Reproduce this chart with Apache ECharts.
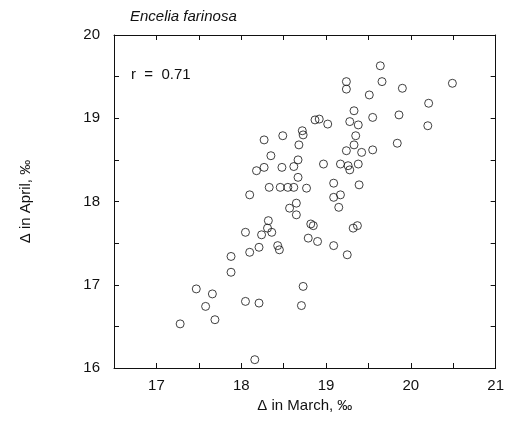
<!DOCTYPE html>
<html>
<head>
<meta charset="utf-8">
<script src="https://cdn.jsdelivr.net/npm/echarts@6/dist/echarts.min.js"></script>
<style>
  html, body { margin: 0; padding: 0; background: #fff; }
  #chart { width: 507px; height: 443px; }
</style>
</head>
<body>
<div id="chart"></div>
<script>
// Δ in March (x) and Δ in April (y)
const marchVals = [
  18.27, 18.49, 18.72, 18.73, 18.68, 18.35, 18.67, 18.27, 18.18, 18.48,
  18.62, 18.67, 18.33, 18.46, 18.55, 18.62, 18.77, 18.10, 18.65, 19.64,
  19.24, 19.24, 19.66, 20.49, 19.90, 19.51, 20.21, 19.33, 18.87, 18.92,
  19.02, 19.28, 19.38, 19.55, 19.86, 20.20, 19.35, 19.33, 19.24, 19.42,
  19.55, 19.84, 18.97, 19.17, 19.26, 19.28, 19.38, 19.09, 19.39, 19.09,
  19.17, 18.57, 18.65, 18.32, 18.31, 18.36, 18.05, 18.24, 18.79, 18.43,
  18.45, 18.21, 18.10, 17.88, 17.88, 17.47, 17.66, 17.58, 17.69, 17.28,
  18.05, 18.21, 18.73, 18.71, 18.16, 19.15, 18.82, 18.85, 19.32, 19.37,
  18.90, 19.09, 19.25
];
const aprilVals = [
  18.74, 18.79, 18.85, 18.80, 18.68, 18.55, 18.50, 18.41, 18.37, 18.41,
  18.42, 18.29, 18.17, 18.17, 18.17, 18.17, 18.16, 18.08, 17.98, 19.63,
  19.44, 19.35, 19.44, 19.42, 19.36, 19.28, 19.18, 19.09, 18.98, 18.99,
  18.93, 18.96, 18.92, 19.01, 19.04, 18.91, 18.79, 18.68, 18.61, 18.59,
  18.62, 18.70, 18.45, 18.45, 18.43, 18.38, 18.45, 18.22, 18.20, 18.05,
  18.08, 17.92, 17.84, 17.77, 17.68, 17.63, 17.63, 17.60, 17.56, 17.47,
  17.42, 17.45, 17.39, 17.34, 17.15, 16.95, 16.89, 16.74, 16.58, 16.53,
  16.80, 16.78, 16.98, 16.75, 16.10, 17.93, 17.73, 17.71, 17.68, 17.71,
  17.52, 17.47, 17.36
];
const rText = 'r  =  0.71';

const points = marchVals.map((x, i) => [x, aprilVals[i]]);

const font = '"Liberation Sans", Arial, Helvetica, sans-serif';
const intLabel = v => (Math.abs(v - Math.round(v)) < 1e-6 ? String(Math.round(v)) : '');

const chart = echarts.init(document.getElementById('chart'));

chart.setOption({
  animation: false,
  backgroundColor: '#fff',
  title: {
    text: 'Encelia farinosa',
    left: 130,
    top: 9,
    padding: 0,
    textStyle: { fontFamily: font, fontSize: 15, fontStyle: 'italic', fontWeight: 'normal', color: '#111' }
  },
  graphic: [{
    type: 'text',
    left: 131,
    top: 67,
    style: { text: rText, font: '15px ' + font, fill: '#111' }
  }],
  grid: { left: 114, right: 6, top: 35, bottom: 75 },
  xAxis: [
    {
      type: 'value', min: 16.5, max: 21, interval: 0.5,
      name: 'Δ in March, ‰', nameLocation: 'middle', nameGap: 30,
      nameTextStyle: { fontFamily: font, fontSize: 15, color: '#111' },
      axisLine: { show: true, onZero: false, lineStyle: { color: '#111', width: 1 } },
      axisTick: { show: true, inside: true, length: 5, lineStyle: { color: '#111' } },
      axisLabel: { formatter: intLabel, fontFamily: font, fontSize: 15, color: '#111', margin: 10 },
      splitLine: { show: false }
    },
    {
      type: 'value', position: 'top', min: 16.5, max: 21, interval: 0.5,
      axisLine: { show: true, onZero: false, lineStyle: { color: '#111', width: 1 } },
      axisTick: { show: true, inside: true, length: 5, lineStyle: { color: '#111' } },
      axisLabel: { show: false },
      splitLine: { show: false }
    }
  ],
  yAxis: [
    {
      type: 'value', min: 16, max: 20, interval: 0.5,
      name: 'Δ in April, ‰', nameLocation: 'middle', nameGap: 81,
      nameTextStyle: { fontFamily: font, fontSize: 15, color: '#111' },
      axisLine: { show: true, onZero: false, lineStyle: { color: '#111', width: 1 } },
      axisTick: { show: true, inside: true, length: 5, lineStyle: { color: '#111' } },
      axisLabel: { formatter: intLabel, fontFamily: font, fontSize: 15, color: '#111', margin: 14 },
      splitLine: { show: false }
    },
    {
      type: 'value', position: 'right', min: 16, max: 20, interval: 0.5,
      axisLine: { show: true, onZero: false, lineStyle: { color: '#111', width: 1 } },
      axisTick: { show: true, inside: true, length: 5, lineStyle: { color: '#111' } },
      axisLabel: { show: false },
      splitLine: { show: false }
    }
  ],
  series: [{
    type: 'scatter',
    data: points,
    symbol: 'circle',
    symbolSize: 8,
    itemStyle: { color: 'rgba(255,255,255,0)', borderColor: '#111', borderWidth: 1 }
  }]
});
</script>
</body>
</html>
